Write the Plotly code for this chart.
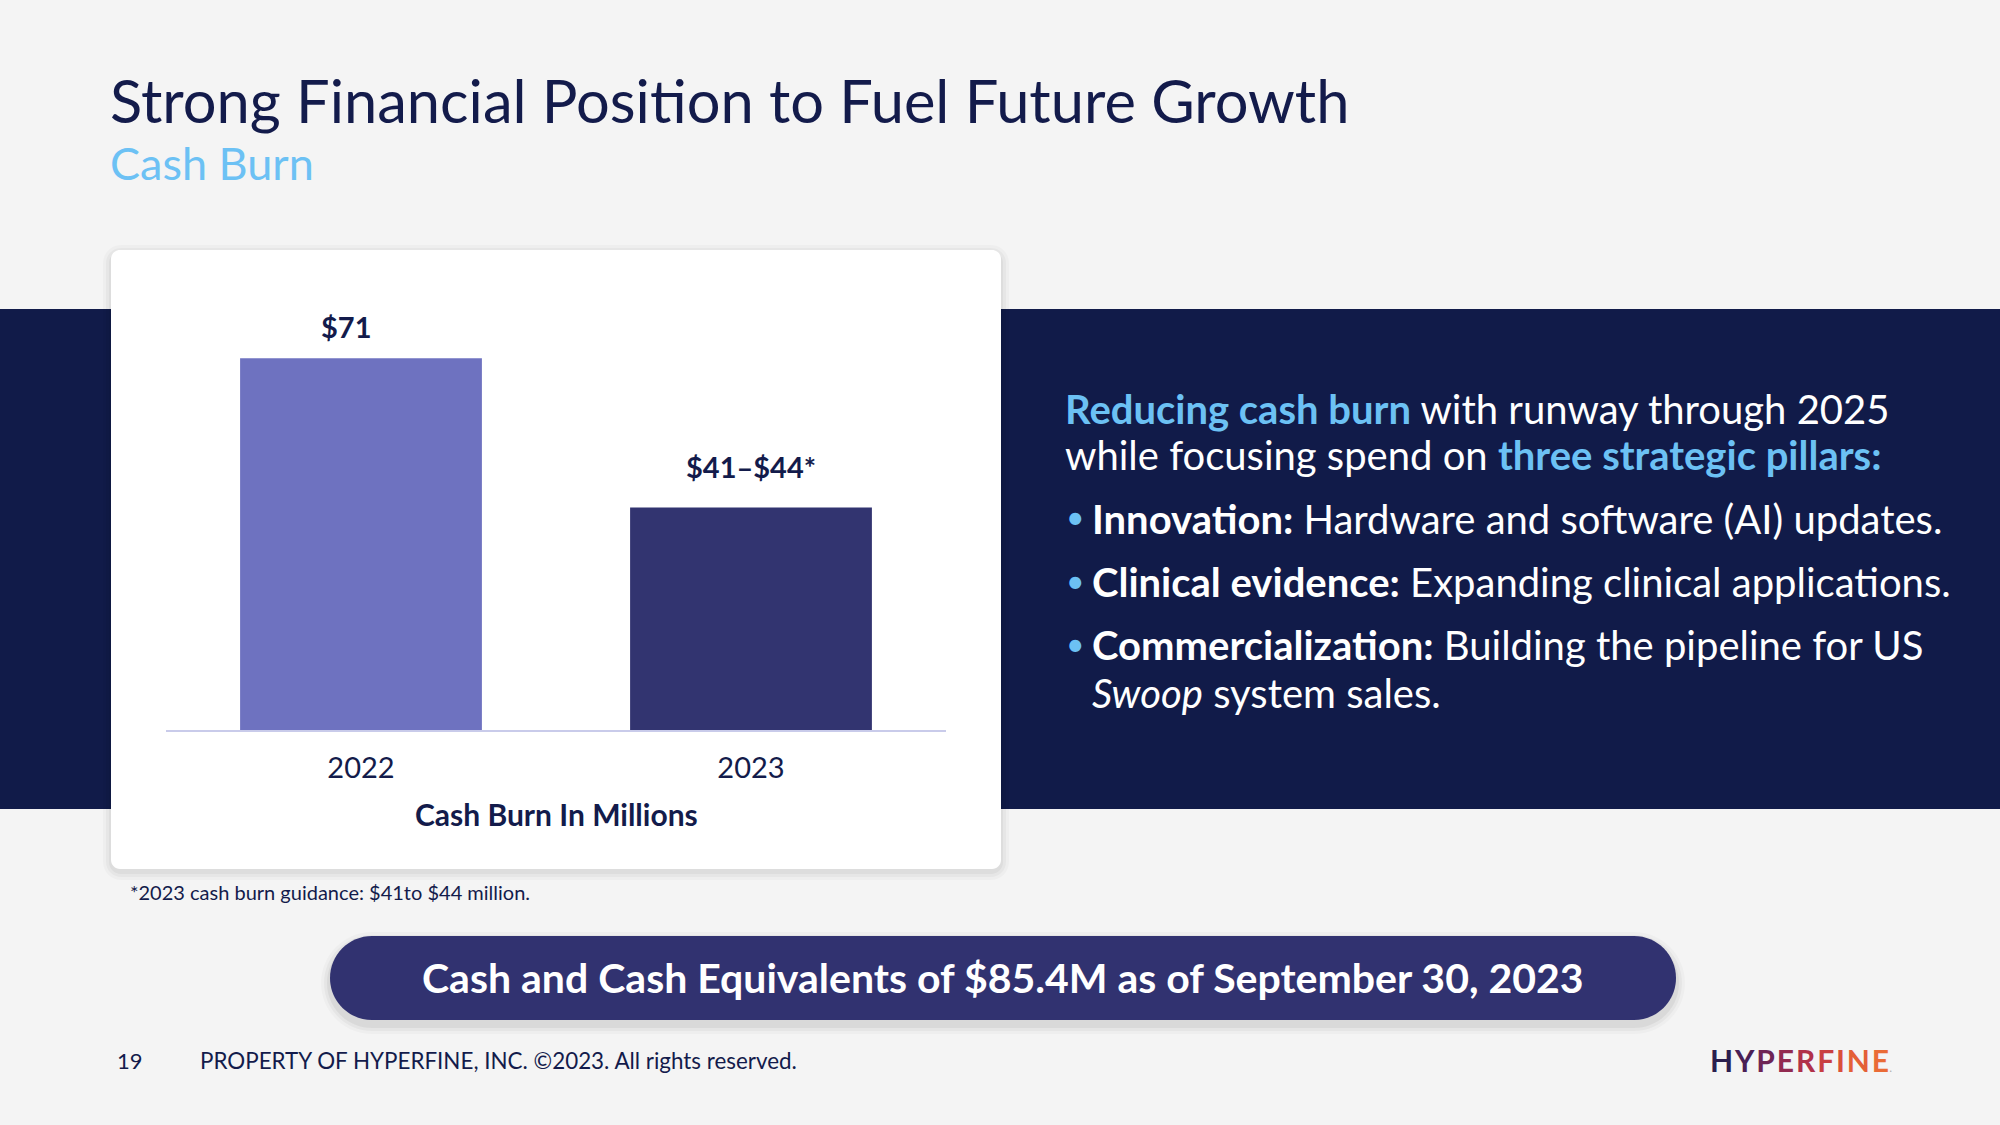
import plotly.graph_objects as go

# ---- data ----
years = ["2022", "2023"]
cash_burn = [71, 42.5]          # 2023 drawn at the midpoint of the $41–$44 guidance
bar_labels = ["$71", "$41–$44*"]
bar_colors = ["#6E72C0", "#323470"]

W, H = 2000, 1125
FONT = "Lato"
NAVY = "#131B4B"
BAND = "#111B49"
BLUE = "#6CC1F4"


def px(x):
    return x / W


def py(y):
    return 1 - y / H


def rounded_path(x0, y0, x1, y1, r):
    k = 0.5523 * r

    def P(x, y):
        return f"{px(x):.5f},{py(y):.5f}"
    s = f"M {P(x0 + r, y0)} L {P(x1 - r, y0)} "
    s += f"C {P(x1 - r + k, y0)} {P(x1, y0 + r - k)} {P(x1, y0 + r)} "
    s += f"L {P(x1, y1 - r)} "
    s += f"C {P(x1, y1 - r + k)} {P(x1 - r + k, y1)} {P(x1 - r, y1)} "
    s += f"L {P(x0 + r, y1)} "
    s += f"C {P(x0 + r - k, y1)} {P(x0, y1 - r + k)} {P(x0, y1 - r)} "
    s += f"L {P(x0, y0 + r)} "
    s += f"C {P(x0, y0 + r - k)} {P(x0 + r - k, y0)} {P(x0 + r, y0)} Z"
    return s


fig = go.Figure()
fig.add_trace(go.Bar(
    x=years, y=cash_burn, marker=dict(color=bar_colors, line=dict(width=0)),
    hoverinfo="skip", showlegend=False,
))

shapes = []
# dark band
shapes.append(dict(type="rect", xref="paper", yref="paper", x0=0, x1=1,
                   y0=py(809), y1=py(309), fillcolor=BAND, line=dict(width=0), layer="below"))
# card shadow layers
for i, op in enumerate([0.025, 0.03, 0.04]):
    g = 8 - 3 * i
    shapes.append(dict(type="path", xref="paper", yref="paper",
                       path=rounded_path(111 - g, 250 - g + 3, 1001 + g, 869 + g + 3, 10 + g),
                       fillcolor=f"rgba(0,0,0,{op})", line=dict(width=0), layer="below"))
# card
shapes.append(dict(type="path", xref="paper", yref="paper",
                   path=rounded_path(111, 250, 1001, 869, 9),
                   fillcolor="#FFFFFF", line=dict(width=0), layer="below"))
# pill shadow
for i, op in enumerate([0.025, 0.035, 0.05]):
    g = 9 - 3 * i
    shapes.append(dict(type="path", xref="paper", yref="paper",
                       path=rounded_path(330 - g, 936 - g + 5, 1676 + g, 1020 + g + 5, 42 + g),
                       fillcolor=f"rgba(0,0,0,{op})", line=dict(width=0), layer="below"))
shapes.append(dict(type="path", xref="paper", yref="paper",
                   path=rounded_path(330, 936, 1676, 1020, 42),
                   fillcolor="#313270", line=dict(width=0), layer="below"))

annotations = []
# bar value labels (category index positions)
label_xshift = [-15, 0]
label_yshift = [12, 21]
for i, (v, lab) in enumerate(zip(cash_burn, bar_labels)):
    annotations.append(dict(x=i, y=v, xref="x", yref="y", text=f"<b>{lab}</b>",
                            showarrow=False, yanchor="bottom",
                            xshift=label_xshift[i], yshift=label_yshift[i],
                            font=dict(family=FONT, size=29, color=NAVY)))


def add_text(x, y, text, size, color=NAVY, xanchor="left", yanchor="middle"):
    annotations.append(dict(x=px(x), y=py(y), xref="paper", yref="paper", text=text,
                            showarrow=False, xanchor=xanchor, yanchor=yanchor, align="left",
                            font=dict(family=FONT, size=size, color=color)))


add_text(108, 100, "Strong Financial Position to Fuel Future Growth", 59.6)
add_text(108, 163, "Cash Burn", 45, color=BLUE)

add_text(556, 814, "<b>Cash Burn In Millions</b>", 30, xanchor="center")
add_text(128, 892, "*2023 cash burn guidance: $41to $44 million.", 20)

TS = 40
add_text(1063, 409, f"<b><span style='color:{BLUE}'>Reducing cash burn</span></b> with runway through 2025", TS, color="white")
add_text(1063, 455, f"while focusing spend on <b><span style='color:{BLUE}'>three strategic pillars:</span></b>", TS, color="white")
bullets = [
    (519, "<b>Innovation:</b> Hardware and software (AI) updates."),
    (582, "<b>Clinical evidence:</b> Expanding clinical applications."),
    (645, "<b>Commercialization:</b> Building the pipeline for US"),
]
for yy, t in bullets:
    add_text(1064, yy - 2, "•", 32, color=BLUE)
    add_text(1090, yy, t, TS, color="white")
add_text(1090, 693, "<i>Swoop</i> system sales.", TS, color="white")

add_text(1003, 977, "<b>Cash and Cash Equivalents of $85.4M as of September 30, 2023</b>", 41,
         color="white", xanchor="center")

add_text(115, 1060, "19", 22)
add_text(198, 1060, "PROPERTY OF HYPERFINE, INC. ©2023. All rights reserved.", 22.4)

logo_letters = list("HYPERFINE")
logo_colors = ["#2A1E4E", "#4A1F55", "#6E2455", "#922A50", "#B0314A", "#C93F42", "#DA503B", "#E45F37", "#EA6B36"]
logo = "\u200a".join(f"<span style='color:{c}'>{ch}</span>" for ch, c in zip(logo_letters, logo_colors))
logo = f"<b>{logo}</b><span style='color:#B0B0B0;font-size:12px'>.</span>"
add_text(1708, 1060, logo, 30)

fig.update_layout(
    width=W, height=H,
    margin=dict(l=0, r=0, t=0, b=0, autoexpand=False),
    paper_bgcolor="#F4F4F4", plot_bgcolor="rgba(0,0,0,0)",
    bargap=0.38,
    shapes=shapes, annotations=annotations,
    font=dict(family=FONT, color=NAVY),
    xaxis=dict(type="category", domain=[px(166), px(946)], range=[-0.5, 1.5], showgrid=False,
               showline=True, linecolor="#C9CBEA", linewidth=2,
               ticks="outside", ticklen=11, tickcolor="rgba(0,0,0,0)",
               tickfont=dict(family=FONT, size=29, color=NAVY), fixedrange=True),
    yaxis=dict(domain=[py(730), py(311)], range=[0, 80], visible=False, fixedrange=True),
)

fig.write_html("out.html", config={"displayModeBar": False},
               post_script="document.body.style.margin='0';document.body.style.overflow='hidden';")
